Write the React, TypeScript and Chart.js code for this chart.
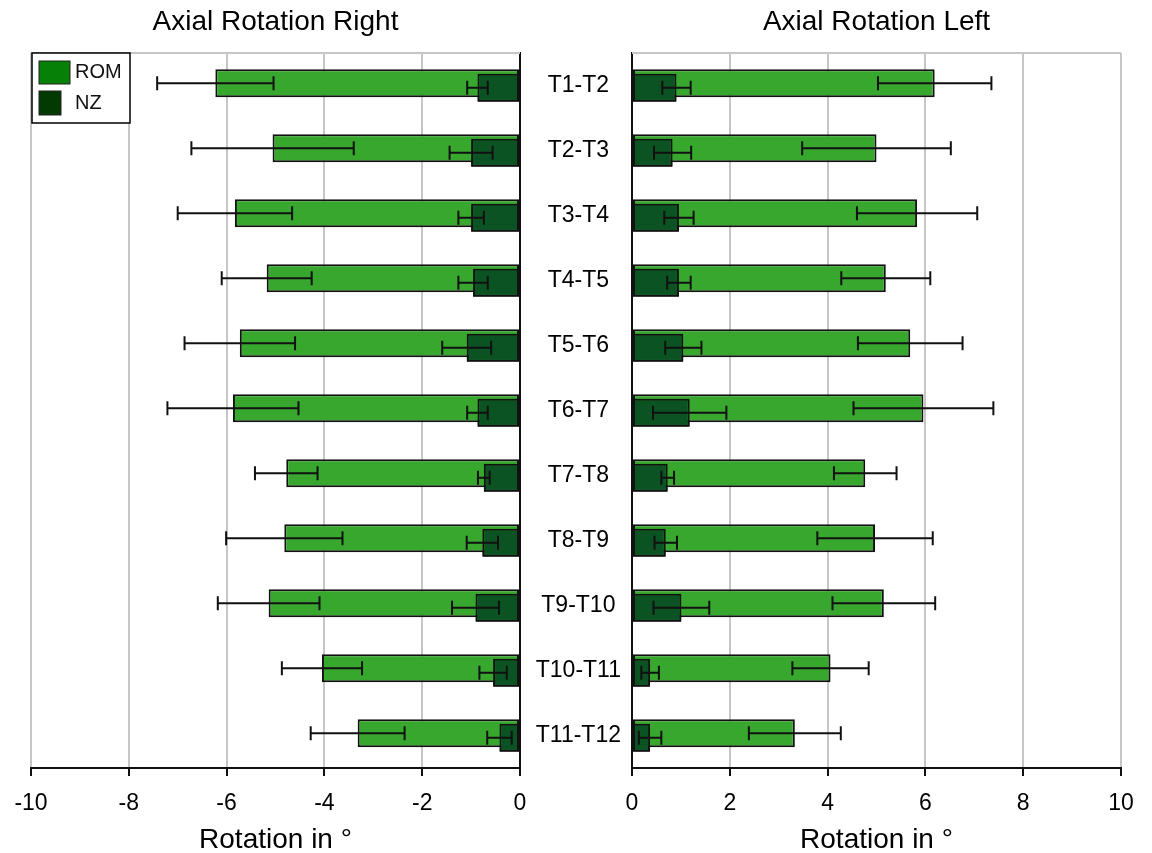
import React, { useEffect, useRef } from "react";
import { Chart, registerables } from "chart.js";

Chart.register(...registerables);

// ---- data ----
const SEGMENTS = ["T1-T2", "T2-T3", "T3-T4", "T4-T5", "T5-T6", "T6-T7", "T7-T8", "T8-T9", "T9-T10", "T10-T11", "T11-T12"];

// Axial Rotation Right (plotted as negative values)
const ROM_RIGHT = [-6.23, -5.06, -5.83, -5.18, -5.73, -5.87, -4.78, -4.82, -5.14, -4.05, -3.32];
const ROM_RIGHT_SD = [1.19, 1.66, 1.17, 0.92, 1.13, 1.34, 0.64, 1.19, 1.04, 0.82, 0.96];
const NZ_RIGHT = [-0.87, -1.0, -1.0, -0.96, -1.09, -0.87, -0.74, -0.77, -0.91, -0.55, -0.42];
const NZ_RIGHT_SD = [0.21, 0.44, 0.26, 0.3, 0.5, 0.21, 0.12, 0.32, 0.48, 0.28, 0.25];

// Axial Rotation Left
const ROM_LEFT = [6.19, 5.0, 5.83, 5.19, 5.69, 5.96, 4.77, 4.97, 5.15, 4.06, 3.33];
const ROM_LEFT_SD = [1.16, 1.52, 1.23, 0.91, 1.07, 1.43, 0.64, 1.18, 1.05, 0.78, 0.94];
const NZ_LEFT = [0.91, 0.83, 0.96, 0.96, 1.05, 1.18, 0.73, 0.69, 1.01, 0.37, 0.37];
const NZ_LEFT_SD = [0.29, 0.38, 0.3, 0.24, 0.37, 0.75, 0.13, 0.23, 0.57, 0.18, 0.23];

const SERIES_LABELS = ["ROM", "NZ"];
const TITLE_RIGHT = "Axial Rotation Right";
const TITLE_LEFT = "Axial Rotation Left";
const X_TITLE = "Rotation in °";

// ---- styles ----
const FONT = "'Liberation Sans', Arial, sans-serif";
const GRID = "#c6c6c6";
const ROM_COLOR = "#38a72e";
const NZ_COLOR = "#0b5323";
const ROM_LEGEND = "#068006";
const NZ_LEGEND = "#023a02";

const errorBarPlugin = {
  id: "errorBars",
  afterDatasetsDraw(chart: any) {
    const ctx = chart.ctx;
    const xScale = chart.scales.x;
    // draw NZ bars above ROM bars
    ctx.save();
    chart.getDatasetMeta(1).controller.draw();
    ctx.restore();
    ctx.save();
    ctx.strokeStyle = "#111";
    ctx.lineWidth = 2;
    chart.data.datasets.forEach((ds: any, di: number) => {
      const meta = chart.getDatasetMeta(di);
      meta.data.forEach((el: any, i: number) => {
        const v = ds.data[i];
        const sd = ds.sd[i];
        const x1 = xScale.getPixelForValue(v - sd);
        const x2 = xScale.getPixelForValue(v + sd);
        const y = el.y;
        const c = 7;
        ctx.beginPath();
        ctx.moveTo(x1, y);
        ctx.lineTo(x2, y);
        ctx.moveTo(x1, y - c);
        ctx.lineTo(x1, y + c);
        ctx.moveTo(x2, y - c);
        ctx.lineTo(x2, y + c);
        ctx.stroke();
      });
    });
    ctx.restore();
  },
};

const frameTopPlugin = {
  id: "frameTop",
  beforeDatasetsDraw(chart: any) {
    const { ctx, chartArea } = chart;
    ctx.save();
    ctx.strokeStyle = GRID;
    ctx.lineWidth = 2;
    ctx.beginPath();
    ctx.moveTo(chartArea.left, chartArea.top);
    ctx.lineTo(chartArea.right, chartArea.top);
    ctx.stroke();
    ctx.restore();
  },
};

const legendBoxPlugin = {
  id: "legendBox",
  afterDraw(chart: any) {
    const { ctx, chartArea } = chart;
    const x0 = chartArea.left + 1;
    const y0 = chartArea.top;
    const w = 98;
    const h = 70;
    ctx.save();
    ctx.fillStyle = "#fff";
    ctx.fillRect(x0, y0, w, h);
    ctx.strokeStyle = "#000";
    ctx.lineWidth = 1.5;
    ctx.strokeRect(x0, y0, w, h);
    const items = [
      { label: chart.data.datasets[0].label, color: ROM_LEGEND, sx: 7, sy: 8, sw: 31, sh: 23, ty: 19.5 },
      { label: chart.data.datasets[1].label, color: NZ_LEGEND, sx: 7, sy: 38, sw: 22, sh: 24, ty: 50 },
    ];
    ctx.font = `20px ${FONT}`;
    ctx.textBaseline = "middle";
    ctx.textAlign = "left";
    items.forEach((it) => {
      ctx.fillStyle = it.color;
      ctx.fillRect(x0 + it.sx, y0 + it.sy, it.sw, it.sh);
      ctx.strokeStyle = "#222";
      ctx.lineWidth = 1;
      ctx.strokeRect(x0 + it.sx, y0 + it.sy, it.sw, it.sh);
      ctx.fillStyle = "#111";
      ctx.fillText(it.label, x0 + 43, y0 + it.ty);
    });
    ctx.restore();
  },
};

function makeConfig(side: "right" | "left"): any {
  const isRightMotion = side === "right";
  const rom = isRightMotion ? ROM_RIGHT : ROM_LEFT;
  const romSd = isRightMotion ? ROM_RIGHT_SD : ROM_LEFT_SD;
  const nz = isRightMotion ? NZ_RIGHT : NZ_LEFT;
  const nzSd = isRightMotion ? NZ_RIGHT_SD : NZ_LEFT_SD;
  const plugins: any[] = [frameTopPlugin, errorBarPlugin];
  if (isRightMotion) plugins.push(legendBoxPlugin);
  return {
    type: "bar",
    data: {
      labels: SEGMENTS,
      datasets: [
        {
          label: SERIES_LABELS[0],
          data: rom,
          sd: romSd,
          backgroundColor: ROM_COLOR,
          borderColor: "#111",
          borderWidth: 2,
          borderSkipped: false,
          categoryPercentage: 0.1385,
          barPercentage: 6.2,
        },
        {
          label: SERIES_LABELS[1],
          data: nz,
          sd: nzSd,
          backgroundColor: NZ_COLOR,
          borderColor: "#111",
          borderWidth: 2,
          borderSkipped: false,
          categoryPercentage: 0.1385,
          barPercentage: 6.2,
        },
      ],
    },
    plugins,
    options: {
      indexAxis: "y",
      animation: false,
      responsive: false,
      layout: { padding: isRightMotion ? { left: 31, right: 0, top: 0, bottom: 0 } : { left: 0, right: 31, top: 0, bottom: 0 } },
      plugins: {
        legend: { display: false },
        tooltip: { enabled: false },
        title: {
          display: true,
          text: isRightMotion ? TITLE_RIGHT : TITLE_LEFT,
          fullSize: false,
          color: "#000",
          font: { size: 28, family: FONT, weight: "normal" },
          padding: { top: 5, bottom: 14.4 },
        },
      },
      scales: {
        x: {
          type: "linear",
          min: isRightMotion ? -10 : 0,
          max: isRightMotion ? 0 : 10,
          ticks: { stepSize: 2, color: "#000", font: { size: 23, family: FONT }, padding: 14 },
          grid: {
            color: (c: any) => (c.tick && c.tick.value === 0 ? "rgba(0,0,0,0)" : GRID),
            lineWidth: 2,
            tickColor: "#111",
            tickLength: 8,
            tickWidth: 2,
          },
          border: { color: "#111", width: 2 },
          title: {
            display: true,
            text: X_TITLE,
            color: "#000",
            font: { size: 28, family: FONT, lineHeight: 0.9 },
            padding: { top: 0, bottom: 0 },
          },
          afterFit: (s: any) => {
            s.height = 85;
          },
        },
        y: {
          type: "category",
          position: isRightMotion ? "right" : "left",
          offset: true,
          grid: { display: false, drawTicks: false },
          border: { color: "#111", width: 2 },
          ticks: isRightMotion
            ? { display: false }
            : { display: true, crossAlign: "center", padding: 11, color: "#000", font: { size: 23, family: FONT } },
          afterFit: (s: any) => {
            s.width = isRightMotion ? 40 : 132;
          },
        },
      },
    },
  };
}

function Panel({ side, left, width }: { side: "right" | "left"; left: number; width: number }) {
  const ref = useRef<HTMLCanvasElement | null>(null);
  useEffect(() => {
    if (!ref.current) return;
    const chart = new Chart(ref.current, makeConfig(side));
    return () => chart.destroy();
  }, [side]);
  return (
    <canvas
      ref={ref}
      width={width}
      height={853}
      style={{ position: "absolute", left, top: 0, width, height: 853 }}
    />
  );
}

export default function App() {
  return (
    <div style={{ position: "fixed", left: 0, top: 0, width: 1152, height: 853, background: "#fff", overflow: "hidden" }}>
      <Panel side="right" left={0} width={560} />
      <Panel side="left" left={500} width={652} />
    </div>
  );
}
